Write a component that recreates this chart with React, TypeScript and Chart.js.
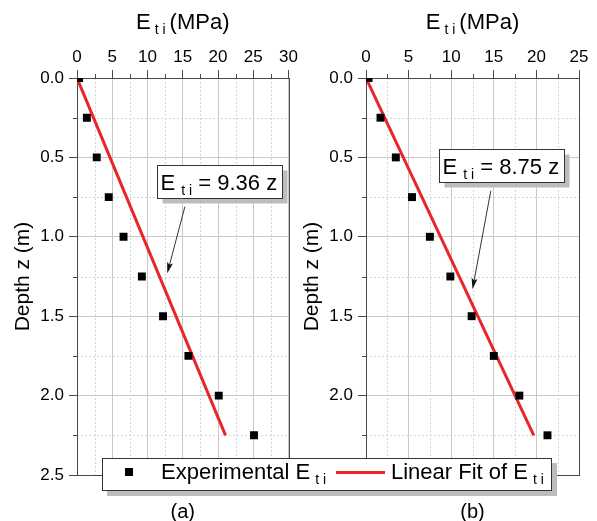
import React, { useEffect, useRef } from 'react';
import { Chart, registerables } from 'chart.js';

Chart.register(...registerables);

// ---------------- data ----------------
const depths = [0, 0.25, 0.5, 0.75, 1.0, 1.25, 1.5, 1.75, 2.0, 2.25];
const expA = [0.3, 1.4, 2.8, 4.5, 6.6, 9.2, 12.2, 15.8, 20.1, 25.1];
const expB = [0.3, 1.7, 3.5, 5.4, 7.5, 9.9, 12.4, 15.0, 18.0, 21.3];
const fitDepths = [0, 2.25];
const fitA = [0, 21.06];
const fitB = [0, 19.69];
const xMaxA = 30;
const xMaxB = 25;
const xMinorStep = 2.5;
const xMajorStep = 5;
const yMax = 2.5;
const yMinorStep = 0.25;
const yMajorStep = 0.5;
const fitTextA = '= 9.36 z';
const fitTextB = '= 8.75 z';
const panelLabelA = '(a)';
const panelLabelB = '(b)';
const xTitle = ['E', 't i', '(MPa)'];
const yTitle = 'Depth z (m)';
const legendExp = 'Experimental E';
const legendFit = 'Linear Fit of E';
const legendSub = 't i';

// annotation anchors in data coordinates
const boxA = { x: 11.4, y: 0.55 };
const arrowA = { x0: 15.3, y0: 0.81, x1: 12.8, y1: 1.23 };
const boxB = { x: 8.55, y: 0.45 };
const arrowB = { x0: 14.65, y0: 0.71, x1: 12.5, y1: 1.33 };

const FONT = '"Liberation Sans", Arial, Helvetica, sans-serif';
const RED = '#e8262a';
const MAJOR_GRID = '#c8c8c8';
const MINOR_GRID = '#d6d6d6';
const AXIS = '#4a4a4a';
const SHADOW = '#bcbcbc';

const isMult = (v: number, s: number) => Math.abs(v / s - Math.round(v / s)) < 1e-6;

function makePlugin(fitText: string, box: { x: number; y: number }, arrow: any, panelLabel: string) {
  return {
    id: 'panelDecor',
    beforeDatasetsDraw(chart: any) {
      const { ctx, chartArea: a, scales } = chart;
      const xs = scales.x;
      const ys = scales.y;
      ctx.save();
      // minor dotted grid
      ctx.strokeStyle = MINOR_GRID;
      ctx.lineWidth = 1;
      ctx.setLineDash([2, 2]);
      xs.ticks.forEach((t: any) => {
        if (isMult(t.value, xMajorStep)) return;
        const p = Math.round(xs.getPixelForValue(t.value)) + 0.5;
        ctx.beginPath();
        ctx.moveTo(p, a.top);
        ctx.lineTo(p, a.bottom);
        ctx.stroke();
      });
      ys.ticks.forEach((t: any) => {
        if (isMult(t.value, yMajorStep)) return;
        const p = Math.round(ys.getPixelForValue(t.value)) + 0.5;
        ctx.beginPath();
        ctx.moveTo(a.left, p);
        ctx.lineTo(a.right, p);
        ctx.stroke();
      });
      ctx.setLineDash([]);
      // minor ticks
      ctx.strokeStyle = AXIS;
      xs.ticks.forEach((t: any) => {
        if (isMult(t.value, xMajorStep)) return;
        const p = Math.round(xs.getPixelForValue(t.value)) + 0.5;
        ctx.beginPath();
        ctx.moveTo(p, a.top - 4);
        ctx.lineTo(p, a.top);
        ctx.stroke();
      });
      ys.ticks.forEach((t: any) => {
        if (isMult(t.value, yMajorStep)) return;
        const p = Math.round(ys.getPixelForValue(t.value)) + 0.5;
        ctx.beginPath();
        ctx.moveTo(a.left - 4, p);
        ctx.lineTo(a.left, p);
        ctx.stroke();
      });
      // frame
      ctx.strokeStyle = AXIS;
      ctx.strokeRect(Math.round(a.left) + 0.5, Math.round(a.top) + 0.5, Math.round(a.right - a.left), Math.round(a.bottom - a.top));
      ctx.restore();
    },
    afterDraw(chart: any) {
      const { ctx, chartArea: a, scales } = chart;
      const xs = scales.x;
      const ys = scales.y;
      ctx.save();
      ctx.fillStyle = '#000';
      ctx.textBaseline = 'alphabetic';
      // x title with subscript
      const big = `22px ${FONT}`;
      const small = `14px ${FONT}`;
      ctx.font = big;
      const w1 = ctx.measureText(xTitle[0]).width;
      const w3 = ctx.measureText(xTitle[2]).width;
      ctx.font = small;
      const w2 = ctx.measureText(xTitle[1]).width;
      const gapA = 4;
      const gapB = 4;
      const total = w1 + gapA + w2 + gapB + w3;
      let sx = (a.left + a.right) / 2 - total / 2;
      ctx.textAlign = 'left';
      ctx.font = big;
      ctx.fillText(xTitle[0], sx, 29);
      sx += w1 + gapA;
      ctx.font = small;
      ctx.fillText(xTitle[1], sx, 34);
      sx += w2 + gapB;
      ctx.font = big;
      ctx.fillText(xTitle[2], sx, 29);

      // y title
      ctx.save();
      ctx.translate(23, (a.top + a.bottom) / 2);
      ctx.rotate(-Math.PI / 2);
      ctx.textAlign = 'center';
      ctx.textBaseline = 'middle';
      ctx.font = `21px ${FONT}`;
      ctx.fillText(yTitle, 0, 0);
      ctx.restore();

      // annotation arrow
      const ax0 = xs.getPixelForValue(arrow.x0);
      const ay0 = ys.getPixelForValue(arrow.y0);
      const ax1 = xs.getPixelForValue(arrow.x1);
      const ay1 = ys.getPixelForValue(arrow.y1);
      const ang = Math.atan2(ay1 - ay0, ax1 - ax0);
      const hl = 11;
      const hw = 3;
      ctx.strokeStyle = '#333';
      ctx.lineWidth = 1;
      ctx.beginPath();
      ctx.moveTo(ax0, ay0);
      ctx.lineTo(ax1 - Math.cos(ang) * hl * 0.8, ay1 - Math.sin(ang) * hl * 0.8);
      ctx.stroke();
      ctx.fillStyle = '#111';
      ctx.beginPath();
      ctx.moveTo(ax1, ay1);
      ctx.lineTo(ax1 - Math.cos(ang) * hl - Math.sin(ang) * hw, ay1 - Math.sin(ang) * hl + Math.cos(ang) * hw);
      ctx.lineTo(ax1 - Math.cos(ang) * hl * 0.8, ay1 - Math.sin(ang) * hl * 0.8);
      ctx.lineTo(ax1 - Math.cos(ang) * hl + Math.sin(ang) * hw, ay1 - Math.sin(ang) * hl - Math.cos(ang) * hw);
      ctx.closePath();
      ctx.fill();

      // annotation box
      const bx = Math.round(xs.getPixelForValue(box.x)) + 0.5;
      const by = Math.round(ys.getPixelForValue(box.y)) + 0.5;
      const tf = `22px ${FONT}`;
      const sf = `14px ${FONT}`;
      ctx.font = tf;
      const e1 = ctx.measureText('E ').width;
      const e3 = ctx.measureText(' ' + fitText).width;
      ctx.font = sf;
      const e2 = ctx.measureText(legendSub).width;
      const bw = Math.round(e1 + e2 + e3 + 8);
      const bh = 33;
      ctx.fillStyle = SHADOW;
      ctx.fillRect(bx + 5, by + 5, bw, bh);
      ctx.fillStyle = '#fff';
      ctx.fillRect(bx, by, bw, bh);
      ctx.strokeStyle = '#333';
      ctx.strokeRect(bx, by, bw, bh);
      ctx.fillStyle = '#000';
      ctx.textAlign = 'left';
      ctx.textBaseline = 'alphabetic';
      let tx = bx + 3;
      ctx.font = tf;
      ctx.fillText('E ', tx, by + 24);
      tx += e1;
      ctx.font = sf;
      ctx.fillText(legendSub, tx, by + 29);
      tx += e2;
      ctx.font = tf;
      ctx.fillText(' ' + fitText, tx, by + 24);

      // panel label
      ctx.font = `20px ${FONT}`;
      ctx.textAlign = 'center';
      ctx.fillText(panelLabel, (a.left + a.right) / 2, 518);
      ctx.restore();
    },
  };
}

type PanelProps = {
  left: number;
  width: number;
  rightPad: number;
  xMax: number;
  exp: number[];
  fit: number[];
  fitText: string;
  box: { x: number; y: number };
  arrow: any;
  panelLabel: string;
};

function Panel(p: PanelProps) {
  const ref = useRef<HTMLCanvasElement>(null);
  useEffect(() => {
    const tickFont = { family: FONT, size: 17 };
    const chart = new Chart(ref.current as HTMLCanvasElement, {
      type: 'scatter',
      data: {
        datasets: [
          {
            label: 'Experimental',
            data: depths.map((d, i) => ({ x: p.exp[i], y: d })),
            pointStyle: 'rect',
            pointRadius: 5.6,
            pointHoverRadius: 5.6,
            backgroundColor: '#000',
            borderColor: '#000',
            borderWidth: 0,
            showLine: false,
            order: 0,
          },
          {
            label: 'Fit',
            data: fitDepths.map((d, i) => ({ x: p.fit[i], y: d })),
            showLine: true,
            borderColor: RED,
            backgroundColor: RED,
            borderWidth: 3,
            pointRadius: 0,
            order: 1,
          },
        ],
      },
      options: {
        responsive: false,
        animation: false,
        devicePixelRatio: 1,
        events: [],
        layout: { padding: { top: 0, left: 0, right: p.rightPad, bottom: 46 } },
        plugins: {
          legend: { display: false },
          tooltip: { enabled: false },
          title: { display: false },
        },
        scales: {
          x: {
            type: 'linear',
            position: 'top',
            min: 0,
            max: p.xMax,
            ticks: {
              stepSize: xMinorStep,
              autoSkip: false,
              maxRotation: 0,
              minRotation: 0,
              padding: 2,
              color: '#000',
              font: tickFont,
              callback: (v: any) => (isMult(Number(v), xMajorStep) ? String(v) : ''),
            },
            grid: {
              color: (c: any) => (c.tick && isMult(c.tick.value, xMajorStep) ? MAJOR_GRID : 'rgba(0,0,0,0)'),
              tickColor: (c: any) => (c.tick && isMult(c.tick.value, xMajorStep) ? AXIS : 'rgba(0,0,0,0)'),
              tickLength: 8,
              lineWidth: 1,
              tickWidth: 1,
            },
            border: { display: false },
            afterFit: (s: any) => {
              s.height = 78;
            },
          },
          y: {
            type: 'linear',
            reverse: true,
            min: 0,
            max: yMax,
            ticks: {
              stepSize: yMinorStep,
              autoSkip: false,
              padding: 5,
              color: '#000',
              font: tickFont,
              callback: (v: any) => (isMult(Number(v), yMajorStep) ? Number(v).toFixed(1) : ''),
            },
            grid: {
              color: (c: any) => (c.tick && isMult(c.tick.value, yMajorStep) ? MAJOR_GRID : 'rgba(0,0,0,0)'),
              tickColor: (c: any) => (c.tick && isMult(c.tick.value, yMajorStep) ? AXIS : 'rgba(0,0,0,0)'),
              tickLength: 8,
              lineWidth: 1,
              tickWidth: 1,
            },
            border: { display: false },
            afterFit: (s: any) => {
              s.width = 77;
            },
          },
        },
      } as any,
      plugins: [makePlugin(p.fitText, p.box, p.arrow, p.panelLabel)],
    });
    return () => chart.destroy();
  }, []);
  return (
    <canvas
      ref={ref}
      width={p.width}
      height={521}
      style={{ position: 'absolute', left: p.left, top: 0, width: p.width, height: 521 }}
    />
  );
}

function Sub() {
  return (
    <span style={{ fontSize: 14, position: 'relative', top: 5, marginLeft: 5 }}>{legendSub}</span>
  );
}

export default function App() {
  return (
    <div
      style={{
        position: 'fixed',
        left: 0,
        top: 0,
        width: 597,
        height: 521,
        background: '#fff',
        overflow: 'hidden',
      }}
    >
      <Panel
        left={0}
        width={300}
        rightPad={9}
        xMax={xMaxA}
        exp={expA}
        fit={fitA}
        fitText={fitTextA}
        box={boxA}
        arrow={arrowA}
        panelLabel={panelLabelA}
      />
      <Panel
        left={289}
        width={308}
        rightPad={18}
        xMax={xMaxB}
        exp={expB}
        fit={fitB}
        fitText={fitTextB}
        box={boxB}
        arrow={arrowB}
        panelLabel={panelLabelB}
      />
      <div
        style={{
          position: 'absolute',
          left: 102,
          top: 458,
          width: 450,
          height: 33,
          boxSizing: 'border-box',
          background: '#fff',
          border: '1px solid #333',
          boxShadow: `5px 5px 0 ${SHADOW}`,
          fontFamily: FONT,
          fontSize: 22,
          color: '#000',
        }}
      >
        <div style={{ position: 'absolute', left: 22, top: 9, width: 8, height: 8, background: '#000' }} />
        <span style={{ position: 'absolute', left: 58, top: 0, lineHeight: '25px', whiteSpace: 'nowrap' }}>
          {legendExp}
          <Sub />
        </span>
        <div style={{ position: 'absolute', left: 233, top: 12, width: 49, height: 3, background: RED }} />
        <span style={{ position: 'absolute', left: 288, top: 0, lineHeight: '25px', whiteSpace: 'nowrap' }}>
          {legendFit}
          <Sub />
        </span>
      </div>
    </div>
  );
}
